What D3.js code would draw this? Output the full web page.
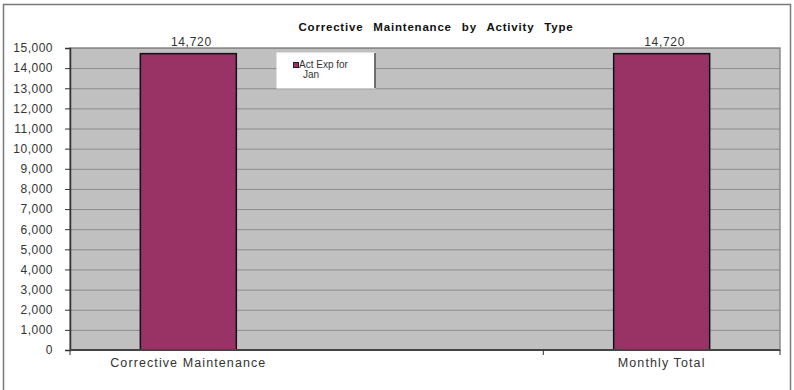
<!DOCTYPE html>
<html>
<head>
<meta charset="utf-8">
<script src="https://cdn.jsdelivr.net/npm/d3@7"></script>
<style>
  body { margin: 0; background: #fff; }
  svg { display: block; font-family: "Liberation Sans", Arial, sans-serif; }
</style>
</head>
<body>
<svg id="chart" width="794" height="390"></svg>
<script>
// categories along the bottom (middle slot is left empty)
var categories = ["Corrective Maintenance", "", "Monthly Total"];
var actExpJan = [14720, null, 14720];
var seriesName = ["Act Exp for", "Jan"];
var yTicks = [0, 1000, 2000, 3000, 4000, 5000, 6000, 7000, 8000, 9000, 10000, 11000, 12000, 13000, 14000, 15000];

var svg = d3.select("#chart");

var plotLeft = 70, plotRight = 780, plotTop = 48, plotBottom = 350;

var x = d3.scaleBand()
    .domain(categories)
    .range([plotLeft, plotRight])
    .padding(0);

var y = d3.scaleLinear()
    .domain([0, 15000])
    .range([plotBottom, plotTop]);

var barW = 96;

// outer chart frame
svg.append("rect")
    .attr("x", 3.5).attr("y", 4.5)
    .attr("width", 787).attr("height", 392)
    .attr("fill", "#fff")
    .attr("stroke", "#7a7a7a")
    .attr("stroke-width", 1.5);

// plot area
svg.append("rect")
    .attr("x", plotLeft).attr("y", plotTop)
    .attr("width", plotRight - plotLeft).attr("height", plotBottom - plotTop)
    .attr("fill", "#c0c0c0")
    .attr("stroke", "#8a8a8a")
    .attr("stroke-width", 1.5);

// gridlines
svg.append("g")
    .attr("transform", "translate(" + plotLeft + ",0)")
    .call(d3.axisLeft(y).tickValues(yTicks).tickSize(-(plotRight - plotLeft)).tickFormat(""))
    .call(function(g) { g.select(".domain").remove(); })
    .selectAll("line")
    .attr("stroke", "#8c8c8c");

// title
svg.append("text")
    .attr("x", 436).attr("y", 31)
    .attr("text-anchor", "middle")
    .attr("font-size", 11.5)
    .attr("font-weight", "bold")
    .attr("letter-spacing", 0.8)
    .attr("word-spacing", 6)
    .attr("fill", "#111")
    .text("Corrective Maintenance by Activity Type");

// bars
var data = categories.map(function(c, i) { return { cat: c, value: actExpJan[i] }; })
    .filter(function(d) { return d.value != null; });

svg.selectAll(".bar")
    .data(data)
  .enter().append("rect")
    .attr("class", "bar")
    .attr("x", function(d) { return x(d.cat) + (x.bandwidth() - barW) / 2; })
    .attr("y", function(d) { return y(d.value); })
    .attr("width", barW)
    .attr("height", function(d) { return y(0) - y(d.value); })
    .attr("fill", "#993366")
    .attr("stroke", "#111")
    .attr("stroke-width", 1.5);

// value labels
svg.selectAll(".val")
    .data(data)
  .enter().append("text")
    .attr("class", "val")
    .attr("x", function(d) { return x(d.cat) + x.bandwidth() / 2 + 3; })
    .attr("y", function(d) { return y(d.value) - 8; })
    .attr("text-anchor", "middle")
    .attr("font-size", 12)
    .attr("letter-spacing", 0.7)
    .attr("fill", "#333")
    .text(function(d) { return d3.format(",")(d.value); });

// y axis
var yAxis = svg.append("g")
    .attr("transform", "translate(" + plotLeft + ",0)")
    .call(d3.axisLeft(y).tickValues(yTicks).tickSize(5).tickPadding(12).tickFormat(d3.format(",")));
yAxis.select(".domain").attr("stroke", "#333").attr("stroke-width", 1.5);
yAxis.selectAll(".tick line").attr("stroke", "#333");
yAxis.selectAll(".tick text")
    .attr("font-size", 12)
    .attr("letter-spacing", 0.5)
    .attr("fill", "#333")
    .attr("font-family", "Liberation Sans, Arial, sans-serif");

// x axis line and ticks
svg.append("line")
    .attr("x1", plotLeft).attr("x2", plotRight)
    .attr("y1", plotBottom).attr("y2", plotBottom)
    .attr("stroke", "#444")
    .attr("stroke-width", 2);

var tickXs = categories.filter(function(c) { return c !== ""; })
    .map(function(c) { return x(c); })
    .concat([plotRight]);
svg.selectAll(".xtick")
    .data(tickXs)
  .enter().append("line")
    .attr("class", "xtick")
    .attr("x1", function(d) { return d; }).attr("x2", function(d) { return d; })
    .attr("y1", plotBottom).attr("y2", plotBottom + 5)
    .attr("stroke", "#333");

svg.selectAll(".xlab")
    .data(categories.filter(function(c) { return c !== ""; }))
  .enter().append("text")
    .attr("class", "xlab")
    .attr("x", function(d) { return x(d) + x.bandwidth() / 2; })
    .attr("y", 367)
    .attr("text-anchor", "middle")
    .attr("font-size", 12.5)
    .attr("letter-spacing", 1.1)
    .attr("fill", "#333")
    .text(function(d) { return d; });

// legend
var lg = svg.append("g").attr("transform", "translate(277,53)");
lg.append("rect")
    .attr("x", 0).attr("y", 0)
    .attr("width", 98).attr("height", 35)
    .attr("fill", "#fff")
    .attr("stroke", "#fff");
lg.append("line")
    .attr("x1", 98).attr("x2", 98).attr("y1", 0).attr("y2", 35)
    .attr("stroke", "#444").attr("stroke-width", 1.5);
lg.append("rect")
    .attr("x", 16.5).attr("y", 9.5)
    .attr("width", 5).attr("height", 5)
    .attr("fill", "#993366")
    .attr("stroke", "#222");
lg.selectAll(".lt")
    .data(seriesName)
  .enter().append("text")
    .attr("class", "lt")
    .attr("x", function(d, i) { return i === 0 ? 22 : 26; })
    .attr("y", function(d, i) { return 15 + i * 10; })
    .attr("font-size", 10)
    .attr("fill", "#333")
    .text(function(d) { return d; });
</script>
</body>
</html>
